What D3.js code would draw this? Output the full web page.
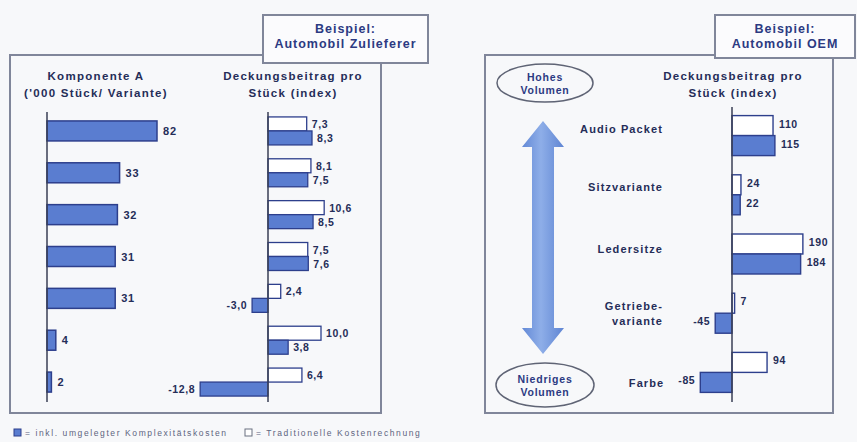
<!DOCTYPE html>
<html>
<head>
<meta charset="utf-8">
<script src="https://cdn.jsdelivr.net/npm/d3@7/dist/d3.min.js"></script>
<style>
  html, body { margin: 0; padding: 0; background: #f7f8fa; }
  svg { display: block; font-family: "Liberation Sans", Arial, sans-serif; font-weight: bold; }
</style>
</head>
<body>
<svg id="chart" width="857" height="442"></svg>
<script>
// ---- Zulieferer: volume per variant of component A ('000 pieces)
const supplierVariants = ["V1", "V2", "V3", "V4", "V5", "V6", "V7"];
const supplierVolume = [82, 33, 32, 31, 31, 4, 2];
// Contribution margin per piece (index): traditional costing vs. incl. complexity costs
const supplierTraditional = [7.3, 8.1, 10.6, 7.5, 2.4, 10.0, 6.4];
const supplierWithComplexity = [8.3, 7.5, 8.5, 7.6, -3.0, 3.8, -12.8];

// ---- OEM: contribution margin per piece (index) by option
const oemOptions = ["Audio Packet", "Sitzvariante", "Ledersitze", "Getriebe-\nvariante", "Farbe"];
const oemTraditional = [110, 24, 190, 7, 94];
const oemWithComplexity = [115, 22, 184, -45, -85];

// ---- Text
const legendLabels = ["= inkl. umgelegter Komplexitätskosten", "= Traditionelle Kostenrechnung"];

const BLUE = "#5a7dd0", BLUE_EDGE = "#2d3f8c", INK = "#252d58", FRAME = "#80869a";
const fmt = v => d3.format(".1f")(v).replace(".", ",").replace("\u2212", "-");

const svg = d3.select("#chart");

// gradient for the volume arrow
const defs = svg.append("defs");
const grad = defs.append("linearGradient").attr("id", "arrowGrad").attr("x1", 0).attr("x2", 1);
grad.append("stop").attr("offset", "0%").attr("stop-color", "#6389d6");
grad.append("stop").attr("offset", "45%").attr("stop-color", "#8eaee8");
grad.append("stop").attr("offset", "100%").attr("stop-color", "#5f85d3");

function frame(x, y, w, h) {
  svg.append("rect").attr("x", x).attr("y", y).attr("width", w).attr("height", h)
    .attr("fill", "none").attr("stroke", FRAME).attr("stroke-width", 2);
}
function tagBox(x, y, w, h, lines) {
  svg.append("rect").attr("x", x).attr("y", y).attr("width", w).attr("height", h)
    .attr("fill", "#fbfbfd").attr("stroke", FRAME).attr("stroke-width", 2);
  lines.forEach((t, i) => svg.append("text").attr("x", x + w / 2).attr("y", y + 18 + i * 15)
    .attr("text-anchor", "middle").attr("font-size", 12.5).attr("fill", "#2c3a82")
    .attr("letter-spacing", 1).text(t));
}
function title(x, y, lines) {
  lines.forEach((t, i) => svg.append("text").attr("x", x).attr("y", y + i * 17)
    .attr("text-anchor", "middle").attr("font-size", 11.5).attr("fill", INK)
    .attr("letter-spacing", 1.3).text(t));
}

// ================= Panel 1: Automobil Zulieferer =================
frame(10, 55, 371, 358);

const yBand = d3.scaleBand().domain(supplierVariants).range([110, 403]);

// Volume bars (long bar truncated at the axis end)
const xVol = d3.scaleLinear().domain([0, 50]).range([47, 157]).clamp(true);
const gVol = svg.append("g");
gVol.selectAll("rect").data(supplierVolume).join("rect")
  .attr("x", xVol(0))
  .attr("y", (d, i) => yBand(supplierVariants[i]) + yBand.bandwidth() / 2 - 10)
  .attr("width", d => xVol(d) - xVol(0))
  .attr("height", 20)
  .attr("fill", BLUE).attr("stroke", BLUE_EDGE).attr("stroke-width", 1.5);
gVol.selectAll("text").data(supplierVolume).join("text")
  .attr("x", d => xVol(d) + 6)
  .attr("y", (d, i) => yBand(supplierVariants[i]) + yBand.bandwidth() / 2 + 4)
  .attr("font-size", 11).attr("letter-spacing", 0.8).attr("fill", INK).text(d => d);
svg.append("line").attr("x1", xVol(0)).attr("x2", xVol(0)).attr("y1", 112).attr("y2", 402)
  .attr("stroke", "#3a3f55").attr("stroke-width", 1.5);

// Contribution margin pairs
const xCm = d3.scaleLinear().domain([-12.8, 10.6]).range([268 - 12.8 * 5.3, 268 + 10.6 * 5.3]);
const gCm = svg.append("g");
const pairH = 14;
function cmBars(values, offset, fill) {
  const g = gCm.append("g");
  g.selectAll("rect").data(values).join("rect")
    .attr("x", d => xCm(Math.min(0, d)))
    .attr("y", (d, i) => yBand(supplierVariants[i]) + yBand.bandwidth() / 2 + offset)
    .attr("width", d => Math.abs(xCm(d) - xCm(0)))
    .attr("height", pairH)
    .attr("fill", fill).attr("stroke", BLUE_EDGE).attr("stroke-width", 1.3);
  g.selectAll("text").data(values).join("text")
    .attr("x", d => d < 0 ? xCm(d) - 5 : xCm(d) + 5)
    .attr("text-anchor", d => d < 0 ? "end" : "start")
    .attr("y", (d, i) => yBand(supplierVariants[i]) + yBand.bandwidth() / 2 + offset + 11)
    .attr("font-size", 10.5).attr("letter-spacing", 0.6).attr("fill", INK).text(d => fmt(d));
}
cmBars(supplierTraditional, -pairH, "#ffffff");
cmBars(supplierWithComplexity, 0, BLUE);
svg.append("line").attr("x1", xCm(0)).attr("x2", xCm(0)).attr("y1", 112).attr("y2", 402)
  .attr("stroke", "#3a3f55").attr("stroke-width", 1.5);

title(96, 80, ["Komponente A", "('000 Stück/ Variante)"]);
title(293, 80, ["Deckungsbeitrag pro", "Stück (index)"]);
tagBox(263, 15, 165, 48, ["Beispiel:", "Automobil Zulieferer"]);

// ================= Panel 2: Automobil OEM =================
frame(485, 55, 348, 358);

const yOem = d3.scaleBand().domain(oemOptions).range([106, 402]);
const xOem = d3.scaleLinear().domain([-85, 190]).range([732 - 85 * 0.373, 732 + 190 * 0.373]);
const gOem = svg.append("g");
const oemH = 20;
function oemBars(values, offset, fill) {
  const g = gOem.append("g");
  g.selectAll("rect").data(values).join("rect")
    .attr("x", d => xOem(Math.min(0, d)))
    .attr("y", (d, i) => yOem(oemOptions[i]) + yOem.bandwidth() / 2 + offset)
    .attr("width", d => Math.abs(xOem(d) - xOem(0)))
    .attr("height", oemH)
    .attr("fill", fill).attr("stroke", BLUE_EDGE).attr("stroke-width", 1.4);
  g.selectAll("text").data(values).join("text")
    .attr("x", d => d < 0 ? xOem(d) - 5 : xOem(d) + 6)
    .attr("text-anchor", d => d < 0 ? "end" : "start")
    .attr("y", (d, i) => yOem(oemOptions[i]) + yOem.bandwidth() / 2 + offset + 12)
    .attr("font-size", 10.5).attr("letter-spacing", 0.6).attr("fill", INK).text(d => d);
}
oemBars(oemTraditional, -oemH, "#ffffff");
oemBars(oemWithComplexity, 0, BLUE);
svg.append("line").attr("x1", xOem(0)).attr("x2", xOem(0)).attr("y1", 107).attr("y2", 402)
  .attr("stroke", "#3a3f55").attr("stroke-width", 1.5);

// Option labels, right-aligned left of the chart
const labelShift = [-7, -8, -5, 0, 11];
oemOptions.forEach((name, i) => {
  const parts = name.split("\n");
  const cy = yOem(name) + yOem.bandwidth() / 2 + labelShift[i];
  const endX = i === oemOptions.length - 1 ? xOem(oemWithComplexity[i]) - 36 : 663;
  parts.forEach((p, j) => svg.append("text")
    .attr("x", endX).attr("y", cy + 4 + (j - (parts.length - 1) / 2) * 15)
    .attr("text-anchor", "end").attr("font-size", 11).attr("fill", INK)
    .attr("letter-spacing", 1.1).text(p));
});

// Volume arrow (high to low)
const ax = 543, aTop = 121, aBot = 354, shaft = 11, head = 21, headLen = 26;
svg.append("path")
  .attr("d", `M${ax},${aTop} L${ax + head},${aTop + headLen} L${ax + shaft},${aTop + headLen}
    L${ax + shaft},${aBot - headLen} L${ax + head},${aBot - headLen} L${ax},${aBot}
    L${ax - head},${aBot - headLen} L${ax - shaft},${aBot - headLen} L${ax - shaft},${aTop + headLen}
    L${ax - head},${aTop + headLen} Z`)
  .attr("fill", "url(#arrowGrad)");

function bubble(cx, cy, rx, ry, lines) {
  svg.append("ellipse").attr("cx", cx).attr("cy", cy).attr("rx", rx).attr("ry", ry)
    .attr("fill", "none").attr("stroke", "#5f6475").attr("stroke-width", 1.5);
  lines.forEach((t, i) => svg.append("text").attr("x", cx).attr("y", cy + 4 + (i - 0.5) * 13)
    .attr("text-anchor", "middle").attr("font-size", 10.5).attr("letter-spacing", 0.8)
    .attr("fill", "#2c3a82").text(t));
}
bubble(545, 83, 48, 19, ["Hohes", "Volumen"]);
bubble(545, 385, 49, 22, ["Niedriges", "Volumen"]);

title(733, 80, ["Deckungsbeitrag pro", "Stück (index)"]);
tagBox(715, 15, 140, 43, ["Beispiel:", "Automobil OEM"]);

// ================= Legend =================
const lg = svg.append("g").attr("font-weight", "normal").attr("font-size", 8.5).attr("fill", "#5d6480");
lg.append("rect").attr("x", 14).attr("y", 429).attr("width", 7).attr("height", 7)
  .attr("fill", BLUE).attr("stroke", BLUE_EDGE);
lg.append("text").attr("x", 25).attr("y", 436).attr("letter-spacing", 1.6).text(legendLabels[0]);
lg.append("rect").attr("x", 245).attr("y", 429).attr("width", 7).attr("height", 7)
  .attr("fill", "#fff").attr("stroke", "#6a7080");
lg.append("text").attr("x", 256).attr("y", 436).attr("letter-spacing", 1.6).text(legendLabels[1]);
</script>
</body>
</html>
